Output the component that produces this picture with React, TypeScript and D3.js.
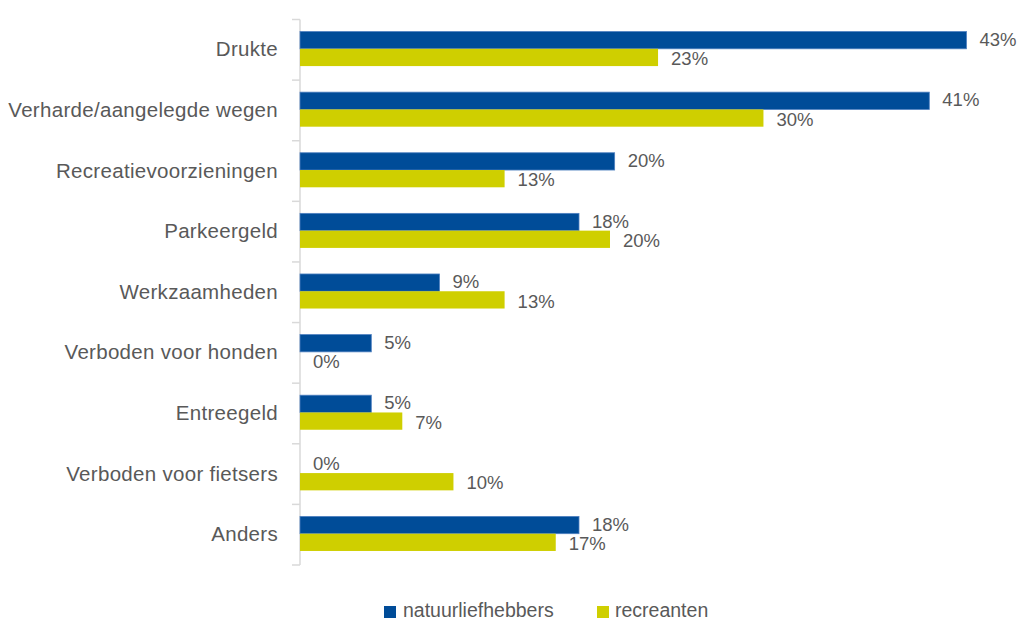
import React from 'react';
import * as d3 from 'd3';

const categories = [
  'Drukte',
  'Verharde/aangelegde wegen',
  'Recreatievoorzieningen',
  'Parkeergeld',
  'Werkzaamheden',
  'Verboden voor honden',
  'Entreegeld',
  'Verboden voor fietsers',
  'Anders',
];
const seriesNames = ['natuurliefhebbers', 'recreanten'];
// percentages (labels show them rounded)
const natuurliefhebbers = [43, 40.6, 20.3, 18, 9, 4.6, 4.6, 0, 18];
const recreanten = [23.1, 29.9, 13.2, 20, 13.2, 0, 6.6, 9.9, 16.5];

const colors = ['#004C98', '#CFCF00'];
const strokes = ['#4F80C0', '#CFCF00'];
const textColor = '#595959';
const font = '"Liberation Sans", Arial, sans-serif';

const App = () => {
  const width = 1020;
  const height = 621;
  const margin = { top: 19.5, left: 300, bottom: 56 };

  const x = d3.scaleLinear().domain([0, 45]).range([margin.left, margin.left + 45 * 15.5]);
  const y = d3
    .scaleBand<string>()
    .domain(categories)
    .range([margin.top, height - margin.bottom])
    .paddingInner(0.43)
    .paddingOuter(0.215);
  const inner = d3.scaleBand<string>().domain(seriesNames).range([0, y.bandwidth()]);

  const values = [natuurliefhebbers, recreanten];
  const step = y.step();
  const start = margin.top;
  const boundaries = d3.range(categories.length + 1).map((i) => start + i * step);

  return (
    <svg width={width} height={height} style={{ position: 'absolute', left: 0, top: 0 }} fontFamily={font}>
      {/* axis */}
      <line x1={x(0)} x2={x(0)} y1={boundaries[0]} y2={boundaries[boundaries.length - 1]} stroke="#d9d9d9" strokeWidth={1.5} />
      {boundaries.map((b, i) => (
        <line key={i} x1={x(0) - 8} x2={x(0)} y1={b} y2={b} stroke="#d9d9d9" strokeWidth={1.5} />
      ))}

      {/* category labels */}
      {categories.map((c) => (
        <text
          key={c}
          x={x(0) - 22}
          y={(y(c) ?? 0) + y.bandwidth() / 2 - 1}
          textAnchor="end"
          dominantBaseline="central"
          fontSize={20.5}
          letterSpacing={0.3}
          fill={textColor}
        >
          {c}
        </text>
      ))}

      {/* bars */}
      {seriesNames.map((s, si) =>
        categories.map((c, ci) => {
          const v = values[si][ci];
          const by = (y(c) ?? 0) + (inner(s) ?? 0) - 1;
          return (
            <g key={s + c}>
              {v > 0 && (
                <rect
                  x={x(0)}
                  y={by}
                  width={x(v) - x(0)}
                  height={inner.bandwidth()}
                  fill={colors[si]}
                  stroke={strokes[si]}
                  strokeWidth={si === 0 ? 0.8 : 0}
                />
              )}
              <text
                x={x(v) + 13}
                y={by + inner.bandwidth() / 2 + (si === 0 ? -1 : 1.2)}
                dominantBaseline="central"
                fontSize={18.5}
                fill={textColor}
              >
                {Math.round(v)}%
              </text>
            </g>
          );
        })
      )}

      {/* legend */}
      <g>
        <rect x={384} y={606} width={12} height={12} fill={colors[0]} />
        <text x={403} y={617} fontSize={19.5} fill={textColor}>
          {seriesNames[0]}
        </text>
        <rect x={597} y={606} width={12} height={12} fill={colors[1]} />
        <text x={615} y={617} fontSize={19.5} fill={textColor}>
          {seriesNames[1]}
        </text>
      </g>
    </svg>
  );
};

export default App;
